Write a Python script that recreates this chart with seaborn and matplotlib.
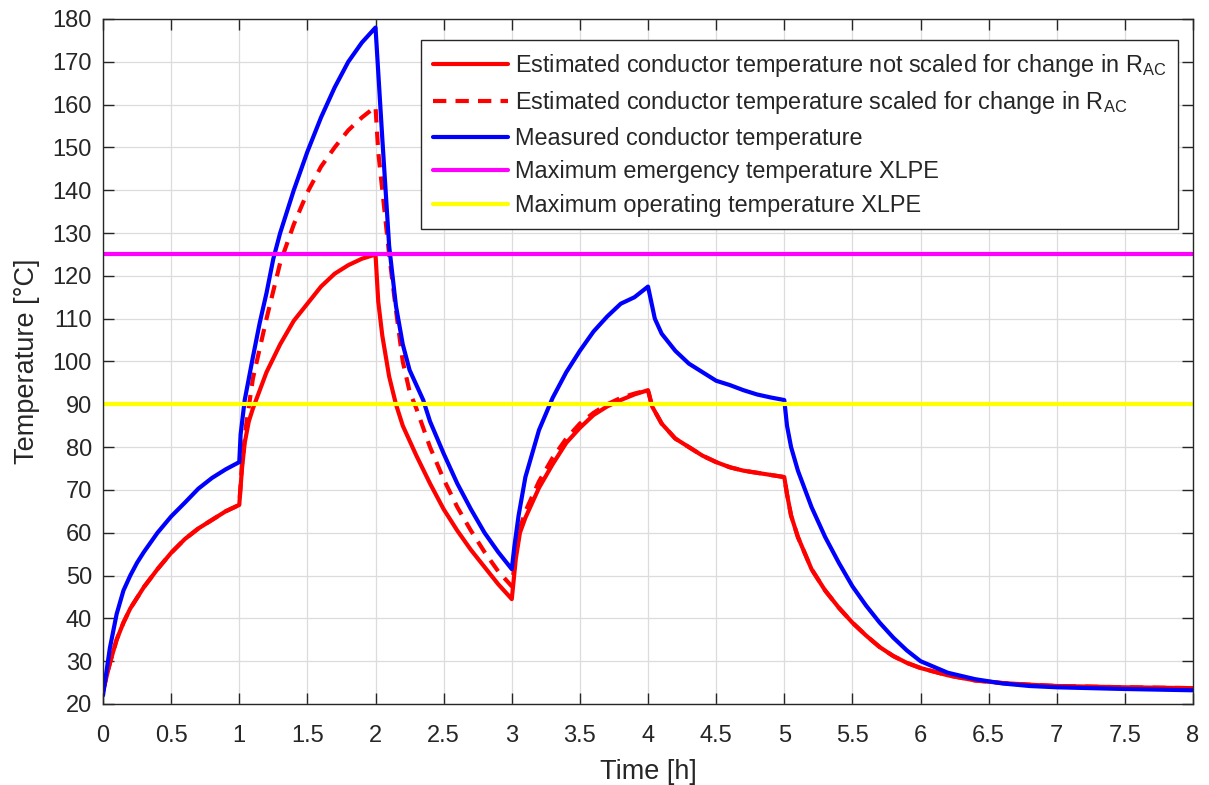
import matplotlib
matplotlib.use("Agg")
import matplotlib.pyplot as plt
import seaborn as sns
import pandas as pd
from matplotlib.ticker import MultipleLocator, FuncFormatter

sns.set_style("ticks")
plt.rcParams['font.family'] = ['Liberation Sans', 'DejaVu Sans']
plt.rcParams['mathtext.fontset'] = 'custom'
plt.rcParams['mathtext.rm'] = 'Liberation Sans'
plt.rcParams['mathtext.it'] = 'Liberation Sans:italic'

# estimated conductor temperature, not scaled (solid red)
t_est = [0.0, 0.05, 0.1, 0.15, 0.2, 0.3, 0.4, 0.5, 0.6, 0.7, 0.8, 0.9, 1.0,
         1.02, 1.04, 1.07, 1.1, 1.2, 1.3, 1.4, 1.5, 1.6, 1.7, 1.8, 1.9, 2.0,
         2.02, 2.05, 2.1, 2.15, 2.2, 2.3, 2.4, 2.5, 2.6, 2.7, 2.8, 2.9, 3.0,
         3.03, 3.06, 3.1, 3.2, 3.3, 3.4, 3.5, 3.6, 3.7, 3.8, 3.9, 4.0,
         4.03, 4.1, 4.2, 4.3, 4.4, 4.5, 4.6, 4.7, 4.8, 4.9, 5.0,
         5.02, 5.05, 5.1, 5.2, 5.3, 5.4, 5.5, 5.6, 5.7, 5.8, 5.9, 6.0,
         6.2, 6.4, 6.6, 6.8, 7.0, 7.5, 8.0]
T_est = [23, 29.5, 35, 39, 42.3, 47.3, 51.5, 55.3, 58.5, 61, 63, 65, 66.5,
         75, 81, 86, 89, 97.5, 104, 109.5, 113.5, 117.5, 120.5, 122.5, 124, 125,
         114, 106, 96.5, 90, 85, 78, 71.5, 65.5, 60.5, 56, 52, 48, 44.5,
         54, 60, 63.5, 70.5, 76, 81, 84.5, 87.5, 89.5, 91, 92.3, 93.3,
         89.5, 85.5, 82, 80, 78, 76.5, 75.3, 74.5, 74, 73.5, 73,
         69, 64, 59, 51.5, 46.5, 42.5, 39, 36, 33.3, 31.2, 29.6, 28.4,
         26.7, 25.5, 24.9, 24.5, 24.2, 23.9, 23.7]

# estimated conductor temperature, scaled for R_AC (dashed red)
t_scl = [0.0, 0.05, 0.1, 0.15, 0.2, 0.3, 0.4, 0.5, 0.6, 0.7, 0.8, 0.9, 1.0,
         1.02, 1.05, 1.1, 1.2, 1.3, 1.4, 1.5, 1.6, 1.7, 1.8, 1.9, 2.0,
         2.02, 2.06, 2.1, 2.15, 2.2, 2.25, 2.3, 2.4, 2.5, 2.6, 2.7, 2.8, 2.9, 3.0,
         3.03, 3.06, 3.1, 3.2, 3.3, 3.4, 3.5, 3.6, 3.7, 3.8, 3.9, 4.0,
         4.03, 4.1, 4.2, 4.3, 4.4, 4.5, 4.6, 4.7, 4.8, 4.9, 5.0,
         5.02, 5.05, 5.1, 5.2, 5.3, 5.4, 5.5, 5.6, 5.7, 5.8, 5.9, 6.0,
         6.2, 6.4, 6.6, 6.8, 7.0, 7.5, 8.0]
T_scl = [23, 29.5, 35, 39, 42.3, 47.3, 51.5, 55.3, 58.5, 61, 63, 65, 66.5,
         76, 85, 96, 110, 123, 132, 139.5, 145.5, 150, 154, 157, 159.5,
         149, 137, 125, 112, 100, 93, 89, 80, 72.5, 66, 60.5, 55.5, 51, 47.5,
         55, 61, 65, 72, 77.5, 82, 85.5, 88, 90, 91.5, 92.5, 93.3,
         89.5, 85.5, 82, 80, 78, 76.5, 75.3, 74.5, 74, 73.5, 73,
         69, 64, 59, 51.5, 46.5, 42.5, 39, 36, 33.3, 31.2, 29.6, 28.4,
         26.7, 25.5, 24.9, 24.5, 24.2, 23.9, 23.7]

# measured conductor temperature (blue)
t_meas = [0.0, 0.05, 0.1, 0.15, 0.2, 0.25, 0.3, 0.4, 0.5, 0.6, 0.7, 0.8, 0.9, 1.0,
          1.01, 1.04, 1.1, 1.15, 1.2, 1.25, 1.3, 1.4, 1.5, 1.6, 1.7, 1.8, 1.9, 2.0,
          2.05, 2.1, 2.15, 2.2, 2.25, 2.3, 2.35, 2.4, 2.5, 2.6, 2.7, 2.8, 2.9, 3.0,
          3.02, 3.05, 3.1, 3.2, 3.3, 3.4, 3.5, 3.6, 3.7, 3.8, 3.9, 4.0,
          4.05, 4.1, 4.2, 4.3, 4.4, 4.5, 4.6, 4.7, 4.8, 4.9, 5.0,
          5.02, 5.05, 5.1, 5.2, 5.3, 5.4, 5.5, 5.6, 5.7, 5.8, 5.9, 6.0,
          6.2, 6.4, 6.6, 6.8, 7.0, 7.5, 8.0]
T_meas = [22, 33, 41, 46.5, 50, 53, 55.5, 60, 63.8, 67, 70.3, 72.8, 74.8, 76.5,
          83, 91, 101, 109, 116, 124, 130, 140, 149, 157, 164, 170, 174.5, 178,
          152, 127, 113, 104, 98, 94.5, 91, 86, 78.5, 71.5, 65.5, 60, 55.5, 51.5,
          57, 64, 73, 84, 91.5, 97.5, 102.5, 107, 110.5, 113.5, 115, 117.5,
          110, 106.5, 102.5, 99.5, 97.5, 95.5, 94.5, 93.3, 92.3, 91.6, 91,
          85, 80, 74.5, 66, 59, 53, 47.5, 43, 39, 35.5, 32.5, 30,
          27.3, 25.8, 24.8, 24.2, 23.9, 23.5, 23.2]

T_emergency = 125
T_operating = 90

labels = [
    r"Estimated conductor temperature not scaled for change in R$_{\mathrm{AC}}$",
    r"Estimated conductor temperature scaled for change in R$_{\mathrm{AC}}$",
    "Measured conductor temperature",
    "Maximum emergency temperature XLPE",
    "Maximum operating temperature XLPE",
]

fig = plt.figure(figsize=(12.09, 7.85), dpi=100)
ax = fig.add_axes([0.0852, 0.1032, 0.9016, 0.8726])

lw = 3.0
sns.lineplot(x=t_est, y=T_est, color="#ff0000", lw=lw, estimator=None,
             label=labels[0], ax=ax)
sns.lineplot(x=t_scl, y=T_scl, color="#ff0000", lw=lw, estimator=None,
             dashes=False, label=labels[1], ax=ax)
ax.lines[-1].set_dashes([3.2, 2.2])
sns.lineplot(x=t_meas, y=T_meas, color="#0000ff", lw=lw, estimator=None,
             label=labels[2], ax=ax)
ax.axhline(T_emergency, color="#ff00ff", lw=lw, label=labels[3])
ax.axhline(T_operating, color="#ffff00", lw=lw, label=labels[4])

ax.set_xlim(0, 8)
ax.set_ylim(20, 180)
ax.xaxis.set_major_locator(MultipleLocator(0.5))
ax.yaxis.set_major_locator(MultipleLocator(10))
ax.xaxis.set_major_formatter(FuncFormatter(lambda v, p: f"{v:g}"))
ax.grid(True, color="#dcdcdc", lw=0.9)
ax.tick_params(direction="in", top=True, right=True, length=8, width=1,
               labelsize=17, colors="#262626")
ax.tick_params(axis="x", pad=15)
ax.tick_params(axis="y", pad=8)
for s in ax.spines.values():
    s.set_visible(True)
    s.set_color("#262626")
    s.set_linewidth(1)

ax.set_xlabel("Time [h]", fontsize=19.5, color="#262626", labelpad=9)
ax.set_ylabel("Temperature [°C]", fontsize=19.5, color="#262626", labelpad=9)

leg = ax.legend(loc="upper right", bbox_to_anchor=(0.9862, 0.9693),
                fontsize=16.9, frameon=True, fancybox=False, framealpha=1,
                edgecolor="#262626", handlelength=3.2, handletextpad=0.3,
                borderpad=0.5, labelspacing=0.45, borderaxespad=0)
leg.get_frame().set_linewidth(1)

fig.savefig("out.png", dpi=100)
